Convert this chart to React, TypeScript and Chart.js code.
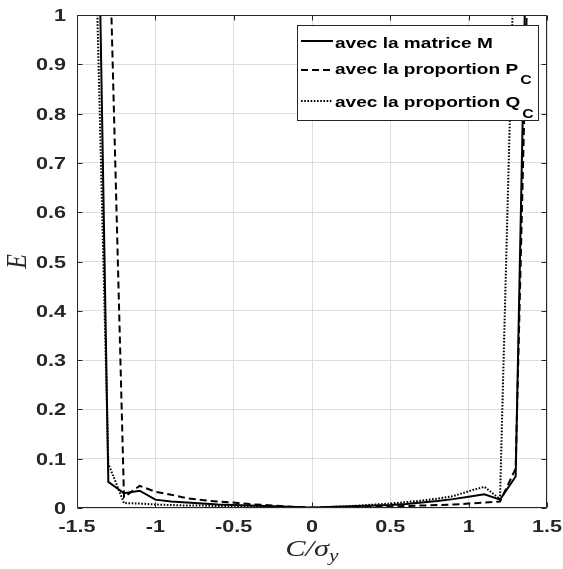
import React, { useEffect, useRef } from "react";
import { Chart, registerables } from "chart.js";

Chart.register(...registerables);

// C / sigma_y sample positions
const cValues = [
  -1.4, -1.3, -1.2, -1.1, -1.0, -0.9, -0.8, -0.7, -0.6, -0.5, -0.4, -0.3, -0.2, -0.1, 0,
  0.1, 0.2, 0.3, 0.4, 0.5, 0.6, 0.7, 0.8, 0.9, 1.0, 1.1, 1.2, 1.3, 1.4,
];

// E with the matrix M (solid)
const eMatriceM = [
  1.91, 0.053, 0.03, 0.035, 0.017, 0.013, 0.011, 0.009, 0.007, 0.006, 0.005, 0.004, 0.003, 0.002, 0.0005,
  0.002, 0.003, 0.004, 0.005, 0.006, 0.008, 0.011, 0.014, 0.018, 0.023, 0.028, 0.017, 0.064, 1.68,
];

// E with the proportion P_C (dashed)
const eProportionPC = [
  2.4, 1.24, 0.022, 0.045, 0.033, 0.027, 0.02, 0.016, 0.013, 0.011, 0.008, 0.006, 0.004, 0.002, 0.001,
  0.001, 0.002, 0.002, 0.003, 0.003, 0.004, 0.005, 0.006, 0.007, 0.009, 0.011, 0.013, 0.08, 1.39,
];

// E with the proportion Q_C (dotted)
const eProportionQC = [
  1.39, 0.09, 0.01, 0.009, 0.007, 0.006, 0.005, 0.005, 0.004, 0.003, 0.003, 0.002, 0.002, 0.001, 0.0005,
  0.002, 0.003, 0.005, 0.007, 0.009, 0.012, 0.015, 0.019, 0.024, 0.034, 0.043, 0.018, 1.245, 2.5,
];

const xTicks = [-1.5, -1, -0.5, 0, 0.5, 1, 1.5];
const yTicks = [0, 0.1, 0.2, 0.3, 0.4, 0.5, 0.6, 0.7, 0.8, 0.9, 1];

const legendMain = ["avec la matrice M", "avec la proportion P", "avec la proportion Q"];
const legendSub = ["", "C", "C"];
const dashes: number[][] = [[], [7, 4], [1.6, 1.6]];

const AXIS_COLOR = "#262626";
const SANS = "'Liberation Sans', Arial, Helvetica, sans-serif";
const SERIF = "'Liberation Serif', 'DejaVu Serif', serif";
const STRETCH = 1.27;

const fmt = (v: number) => String(Number(v.toFixed(2)));

function wideText(ctx: CanvasRenderingContext2D, text: string, x: number, y: number, align: CanvasTextAlign) {
  ctx.save();
  ctx.translate(x, y);
  ctx.scale(STRETCH, 1);
  ctx.textAlign = align;
  ctx.fillText(text, 0, 0);
  ctx.restore();
}

const decorPlugin = {
  id: "decor",
  afterDraw(chart: any) {
    const { ctx, chartArea: a, scales } = chart;
    const L = Math.round(a.left) + 0.5;
    const R = Math.round(a.right) - 0.5;
    const T = Math.round(a.top) + 0.5;
    const B = Math.round(a.bottom) - 0.5;
    ctx.save();
    ctx.strokeStyle = AXIS_COLOR;
    ctx.lineWidth = 1;
    ctx.setLineDash([]);
    ctx.beginPath();
    ctx.rect(L, T, R - L, B - T);
    ctx.stroke();

    // inward tick marks
    const tl = 5;
    ctx.beginPath();
    for (const v of xTicks) {
      const px = Math.round(scales.x.getPixelForValue(v)) + 0.5;
      ctx.moveTo(px, B);
      ctx.lineTo(px, B - tl);
      ctx.moveTo(px, T);
      ctx.lineTo(px, T + tl);
    }
    for (const v of yTicks) {
      const py = Math.round(scales.y.getPixelForValue(v)) + 0.5;
      ctx.moveTo(L, py);
      ctx.lineTo(L + tl, py);
      ctx.moveTo(R, py);
      ctx.lineTo(R - tl, py);
    }
    ctx.stroke();

    // tick labels
    ctx.fillStyle = AXIS_COLOR;
    ctx.font = `bold 17px ${SANS}`;
    ctx.textBaseline = "alphabetic";
    for (const v of xTicks) {
      wideText(ctx, fmt(v), scales.x.getPixelForValue(v), 532, "center");
    }
    for (const v of yTicks) {
      wideText(ctx, fmt(v), 66, scales.y.getPixelForValue(v) + 6, "right");
    }

    // legend
    const bx = 297.5, by = 25.5, bw = 241, bh = 95;
    ctx.fillStyle = "#ffffff";
    ctx.fillRect(bx, by, bw, bh);
    ctx.strokeStyle = AXIS_COLOR;
    ctx.lineWidth = 1;
    ctx.strokeRect(bx, by, bw, bh);
    const lineY = [41, 70, 101];
    const baseY = [47.5, 73.5, 107];
    for (let i = 0; i < legendMain.length; i++) {
      ctx.strokeStyle = "#000000";
      ctx.lineWidth = 2;
      ctx.setLineDash(dashes[i]);
      ctx.beginPath();
      ctx.moveTo(301, lineY[i]);
      ctx.lineTo(333, lineY[i]);
      ctx.stroke();
      ctx.setLineDash([]);
      ctx.fillStyle = "#000000";
      ctx.font = `bold 15px ${SANS}`;
      ctx.textBaseline = "alphabetic";
      wideText(ctx, legendMain[i], 335, baseY[i], "left");
      if (legendSub[i]) {
        const w = ctx.measureText(legendMain[i]).width * STRETCH;
        ctx.font = `bold 12.5px ${SANS}`;
        wideText(ctx, legendSub[i], 335 + w + 2, baseY[i] + 10.5, "left");
      }
    }

    // axis titles
    ctx.fillStyle = "#262626";
    ctx.textBaseline = "alphabetic";
    ctx.font = `italic 24px ${SERIF}`;
    const main = "C/σ";
    const mw = ctx.measureText(main).width * STRETCH;
    ctx.font = `italic 17px ${SERIF}`;
    const sw = ctx.measureText("y").width * STRETCH;
    const cx = (a.left + a.right) / 2;
    const x0 = cx - (mw + sw) / 2;
    ctx.font = `italic 24px ${SERIF}`;
    wideText(ctx, main, x0, 556, "left");
    ctx.font = `italic 17px ${SERIF}`;
    wideText(ctx, "y", x0 + mw, 561, "left");

    ctx.save();
    ctx.translate(26, (a.top + a.bottom) / 2);
    ctx.rotate(-Math.PI / 2);
    ctx.scale(1, STRETCH);
    ctx.font = `italic 24px ${SERIF}`;
    ctx.textAlign = "center";
    ctx.fillText("E", 0, 0);
    ctx.restore();

    ctx.restore();
  },
};

export default function App() {
  const ref = useRef<HTMLCanvasElement>(null);
  useEffect(() => {
    document.body.style.margin = "0";
    const mk = (arr: number[]) => cValues.map((x, i) => ({ x, y: arr[i] }));
    const chart = new Chart(ref.current as HTMLCanvasElement, {
      type: "line",
      data: {
        datasets: [
          { label: legendMain[0], data: mk(eMatriceM), borderColor: "#000", borderWidth: 2, borderDash: dashes[0], pointRadius: 0, tension: 0, fill: false },
          { label: legendMain[1] + legendSub[1], data: mk(eProportionPC), borderColor: "#000", borderWidth: 2, borderDash: dashes[1], pointRadius: 0, tension: 0, fill: false },
          { label: legendMain[2] + legendSub[2], data: mk(eProportionQC), borderColor: "#000", borderWidth: 2, borderDash: dashes[2], pointRadius: 0, tension: 0, fill: false },
        ],
      },
      options: {
        animation: false,
        responsive: false,
        maintainAspectRatio: false,
        layout: { padding: { top: 15, right: 16, left: 0, bottom: 0 } },
        plugins: { legend: { display: false }, tooltip: { enabled: false } },
        scales: {
          x: {
            type: "linear",
            min: -1.5,
            max: 1.5,
            afterBuildTicks: (s: any) => { s.ticks = xTicks.map((v) => ({ value: v })); },
            afterFit: (s: any) => { s.height = 61; },
            grid: { color: "#dedede", drawTicks: false, lineWidth: 1 },
            border: { display: false },
            ticks: { display: false },
          },
          y: {
            type: "linear",
            min: 0,
            max: 1,
            afterBuildTicks: (s: any) => { s.ticks = yTicks.map((v) => ({ value: v })); },
            afterFit: (s: any) => { s.width = 77; },
            grid: { color: "#dedede", drawTicks: false, lineWidth: 1 },
            border: { display: false },
            ticks: { display: false },
          },
        },
      },
      plugins: [decorPlugin],
    } as any);
    return () => chart.destroy();
  }, []);
  return (
    <div style={{ position: "absolute", left: 0, top: 0, width: 563, height: 569, background: "#fff" }}>
      <canvas ref={ref} width={563} height={569} style={{ width: 563, height: 569, display: "block" }} />
    </div>
  );
}
